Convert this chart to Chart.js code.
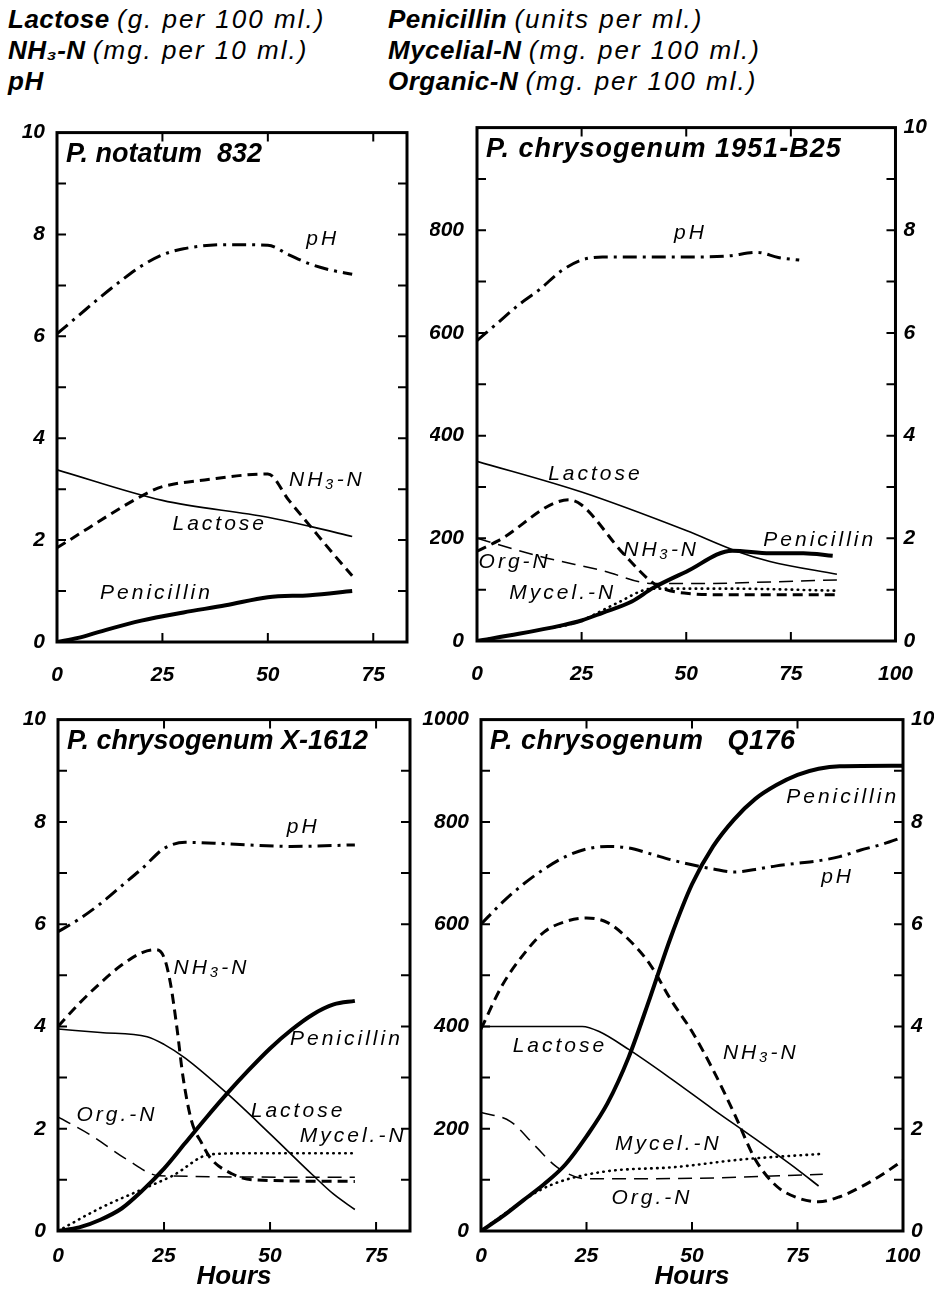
<!DOCTYPE html>
<html>
<head>
<meta charset="utf-8">
<script src="https://cdn.jsdelivr.net/npm/chart.js@4.4.1/dist/chart.umd.min.js"></script>
<style>
  body { margin: 0; background: #fff; }
  #hoja { position: relative; width: 934px; height: 1292px; background: #fff; overflow: hidden;
          font-family: "Liberation Sans", Arial, sans-serif; font-style: italic; color: #000; }
  .cab { position: absolute; font-size: 26px; line-height: 31px; white-space: nowrap; }
  .cab b { letter-spacing: 0.5px; }
  .cab span { letter-spacing: 2px; }
  canvas { position: absolute; }
</style>
</head>
<body>
<div id="hoja">
  <div class="cab" style="left:8px; top:4px"><b>Lactose</b> <span>(g. per 100 ml.)</span><br><b>NH₃-N</b> <span>(mg. per 10 ml.)</span><br><b>pH</b></div>
  <div class="cab" style="left:388px; top:4px"><b>Penicillin</b> <span>(units per ml.)</span><br><b>Mycelial-N</b> <span>(mg. per 100 ml.)</span><br><b>Organic-N</b> <span>(mg. per 100 ml.)</span></div>
  <canvas id="c1" width="440" height="582" style="left:0px; top:108px"></canvas>
  <canvas id="c2" width="504" height="588" style="left:430px; top:102px"></canvas>
  <canvas id="c3" width="445" height="597" style="left:0px; top:695px"></canvas>
  <canvas id="c4" width="519" height="597" style="left:415px; top:695px"></canvas>
</div>
<script>
// Marcas de los ejes
var xTicksShort = [0, 25, 50, 75];
var xTicksLong = [0, 25, 50, 75, 100];
var ticks10 = [0, 2, 4, 6, 8, 10];
var ticks800 = [0, 200, 400, 600, 800];
var ticks1000 = [0, 200, 400, 600, 800, 1000];
var minorTicks = [1, 2, 3, 4, 5, 6, 7, 8, 9];
var innerXTicks = [25, 50, 75];

// P. notatum 832 (horas / valores)
var p1PhH = [0, 5, 10, 15, 20, 25, 30, 40, 50, 55, 60, 65, 70];
var p1Ph = [6.05, 6.4, 6.75, 7.08, 7.38, 7.6, 7.72, 7.8, 7.79, 7.6, 7.42, 7.3, 7.22];
var p1LacH = [0, 25, 50, 60, 70];
var p1Lac = [3.38, 2.78, 2.45, 2.27, 2.07];
var p1NhH = [0, 22, 25, 35, 50, 55, 60, 65, 70];
var p1Nh = [1.85, 2.95, 3.05, 3.18, 3.3, 2.78, 2.28, 1.78, 1.3];
var p1PenH = [0, 5, 10, 20, 30, 40, 50, 60, 70];
var p1Pen = [0, 8, 20, 42, 58, 72, 88, 92, 100];

// P. chrysogenum 1951-B25
var p2PhH = [0, 5, 10, 15, 20, 25, 30, 40, 50, 60, 67, 72, 77];
var p2Ph = [5.85, 6.2, 6.55, 6.85, 7.2, 7.42, 7.48, 7.48, 7.48, 7.5, 7.57, 7.47, 7.42];
var p2LacH = [0, 25, 50, 62, 70, 86];
var p2Lac = [3.5, 2.9, 2.15, 1.75, 1.55, 1.3];
var p2NhH = [0, 5, 22, 25, 35, 43, 50, 60, 86];
var p2Nh = [1.75, 1.95, 2.75, 2.65, 1.7, 1.08, 0.93, 0.9, 0.9];
var p2PenH = [0, 10, 20, 25, 30, 37, 42, 50, 61, 70, 78, 85];
var p2Pen = [0, 14, 30, 40, 55, 77, 103, 135, 176, 171, 171, 166];
var p2OrgH = [0, 15, 30, 42, 55, 70, 86];
var p2Org = [200, 165, 137, 112, 112, 115, 119];
var p2MycH = [0, 10, 24, 33, 42, 60, 86];
var p2Myc = [0, 15, 37, 72, 102, 102, 98];

// P. chrysogenum X-1612
var p3PhH = [0, 5, 10, 15, 20, 25, 30, 40, 55, 70];
var p3Ph = [5.85, 6.1, 6.4, 6.75, 7.1, 7.48, 7.6, 7.57, 7.52, 7.55];
var p3NhH = [0, 5, 10, 15, 20, 23, 25, 26.5, 28, 29.5, 31.5, 34, 36, 41, 46, 70];
var p3Nh = [4.0, 4.45, 4.85, 5.2, 5.45, 5.5, 5.35, 4.85, 4.0, 3.0, 2.15, 1.7, 1.42, 1.12, 1.0, 0.97];
var p3LacH = [0, 10, 21, 25, 30, 40, 50, 60, 65, 70];
var p3Lac = [3.95, 3.88, 3.8, 3.65, 3.38, 2.68, 1.9, 1.1, 0.72, 0.42];
var p3PenH = [0, 5, 10, 15, 20, 25, 30, 35, 40, 45, 50, 55, 60, 65, 70];
var p3Pen = [0, 7, 22, 44, 80, 122, 172, 222, 270, 315, 357, 393, 423, 443, 450];
var p3OrgH = [0, 8, 16, 24, 70];
var p3Org = [223, 186, 141, 108, 105];
var p3MycH = [0, 10, 20, 27, 36, 45, 70];
var p3Myc = [0, 45, 82, 108, 150, 152, 152];

// P. chrysogenum Q176
var p4PenH = [0, 5, 10, 15, 20, 25, 30, 35, 40, 45, 50, 55, 60, 65, 70, 75, 80, 85, 100];
var p4Pen = [0, 28, 60, 92, 130, 185, 250, 340, 455, 575, 678, 752, 805, 845, 872, 892, 904, 909, 910];
var p4PhH = [0, 5, 10, 15, 20, 25, 30, 35, 40, 45, 50, 55, 60, 65, 70, 75, 80, 85, 90, 95, 100];
var p4Ph = [6.0, 6.42, 6.78, 7.08, 7.32, 7.47, 7.52, 7.49, 7.38, 7.26, 7.16, 7.08, 7.02, 7.07, 7.14, 7.19, 7.24, 7.32, 7.45, 7.56, 7.7];
var p4NhH = [0, 5, 10, 15, 20, 25, 30, 35, 40, 45, 50, 55, 60, 65, 70, 75, 80, 85, 90, 95, 100];
var p4Nh = [3.95, 4.8, 5.4, 5.85, 6.05, 6.12, 6.03, 5.7, 5.22, 4.52, 3.9, 3.15, 2.3, 1.4, 0.88, 0.65, 0.57, 0.67, 0.86, 1.1, 1.38];
var p4LacH = [0, 10, 24, 28, 35, 45, 55, 65, 75, 80];
var p4Lac = [4.0, 4.0, 4.0, 3.9, 3.55, 2.98, 2.38, 1.8, 1.2, 0.88];
var p4OrgH = [0, 7, 13, 18, 25, 50, 81];
var p4Org = [232, 214, 165, 125, 102, 103, 111];
var p4MycH = [0, 6, 14, 20, 30, 46, 62, 81];
var p4Myc = [0, 36, 80, 100, 117, 125, 140, 151];

// Rótulos de las curvas: texto, hora, valor en la escala 0-10
var p1Labels = [['pH', 63, 7.9], ['NH₃-N', 64, 3.18], ['Lactose', 38.6, 2.32], ['Penicillin', 23.6, 0.96]];
var p2Labels = [['pH', 51, 7.94], ['Lactose', 28.3, 3.25], ['NH₃-N', 44, 1.76], ['Org-N', 9, 1.54], ['Mycel.-N', 20.5, 0.94], ['Penicillin', 81.9, 1.97]];
var p3Labels = [['pH', 57.8, 7.89], ['NH₃-N', 36.2, 5.13], ['Penicillin', 68, 3.76], ['Lactose', 56.6, 2.34], ['Mycel.-N', 69.6, 1.86], ['Org.-N', 13.9, 2.27]];
var p4Labels = [['Penicillin', 85.7, 8.48], ['pH', 84.5, 6.92], ['Lactose', 18.7, 3.62], ['NH₃-N', 66.3, 3.47], ['Mycel.-N', 44.4, 1.69], ['Org.-N', 40.5, 0.65]];

var familia = '"Liberation Sans", Arial, sans-serif';
var tipo = { family: familia, style: 'italic', weight: 'bold', size: 21 };

var estilo = {
  ph: { borderWidth: 3, borderDash: [14, 6, 3, 6] },
  lac: { borderWidth: 1.6 },
  nh: { borderWidth: 3, borderDash: [10, 6] },
  pen: { borderWidth: 4 },
  org: { borderWidth: 1.5, borderDash: [14, 8] },
  myc: { borderWidth: 2.6, borderDash: [0.5, 5.5], borderCapStyle: 'round' }
};

function serie(h, v, eje, st) {
  return Object.assign({
    data: h.map(function (x, i) { return { x: x, y: v[i] }; }),
    yAxisID: eje, borderColor: '#000', pointRadius: 0, fill: false,
    cubicInterpolationMode: 'monotone'
  }, st);
}

function eje(pos, max, marcas, ancho, pad) {
  if (!marcas) return { type: 'linear', display: false, min: 0, max: max };
  return {
    type: 'linear', position: pos, min: 0, max: max,
    afterBuildTicks: function (s) { s.ticks = marcas.map(function (v) { return { value: v }; }); },
    afterFit: function (s) { s.width = ancho; },
    ticks: { font: tipo, color: '#000', padding: pad, autoSkip: false, callback: function (v) { return String(v); } },
    grid: { display: false, drawTicks: false },
    border: { display: false }
  };
}

function panel(id, caja, area, series, conf) {
  var escalas = {
    x: {
      type: 'linear', min: 0, max: conf.xMax,
      afterBuildTicks: function (s) { s.ticks = conf.xTicks.map(function (v) { return { value: v }; }); },
      afterFit: function (s) { s.height = caja.y + caja.h - area.b; },
      ticks: { font: tipo, color: '#000', padding: conf.xPad, autoSkip: false, maxRotation: 0,
               callback: function (v) { return String(v); } },
      grid: { display: false, drawTicks: false },
      border: { display: false },
      title: { display: conf.hours, text: 'Hours', color: '#000', padding: 0,
               font: { family: familia, style: 'italic', weight: 'bold', size: 26 } }
    }
  };
  var izqMax = conf.izq === 'y' ? 10 : 1000;
  var derMax = conf.der === 'y' ? 10 : 1000;
  escalas[conf.izq] = eje('left', izqMax, conf.izqTicks, area.l - caja.x, conf.izqPad);
  escalas[conf.der] = eje('right', derMax, conf.derTicks, caja.x + caja.w - area.r, conf.derPad);

  var marco = {
    id: 'marco',
    afterDatasetsDraw: function (chart) {
      var a = chart.chartArea, ctx = chart.ctx, sx = chart.scales.x, sy = chart.scales.y;
      ctx.save();
      ctx.strokeStyle = '#000';
      ctx.lineWidth = 3;
      ctx.strokeRect(a.left, a.top, a.right - a.left, a.bottom - a.top);
      ctx.lineWidth = 2;
      ctx.beginPath();
      minorTicks.forEach(function (v) {
        var y = sy.getPixelForValue(v);
        ctx.moveTo(a.left, y); ctx.lineTo(a.left + 9, y);
        ctx.moveTo(a.right, y); ctx.lineTo(a.right - 9, y);
      });
      innerXTicks.forEach(function (v) {
        var x = sx.getPixelForValue(v);
        ctx.moveTo(x, a.bottom); ctx.lineTo(x, a.bottom - 9);
        ctx.moveTo(x, a.top); ctx.lineTo(x, a.top + 9);
      });
      ctx.stroke();
      ctx.fillStyle = '#000';
      ctx.textBaseline = 'middle';
      ctx.textAlign = 'left';
      ctx.font = 'italic bold 27px ' + familia;
      ctx.letterSpacing = conf.tituloEsp || '0px';
      ctx.fillText(conf.titulo, a.left + 9, a.top + 22);
      ctx.font = 'italic 21px ' + familia;
      ctx.textAlign = 'center';
      ctx.letterSpacing = '3px';
      conf.rotulos.forEach(function (e) {
        ctx.fillText(e[0], sx.getPixelForValue(e[1]), sy.getPixelForValue(e[2]));
      });
      ctx.restore();
    }
  };

  return new Chart(document.getElementById(id), {
    type: 'line',
    data: { datasets: series },
    options: {
      responsive: false,
      animation: false,
      layout: { padding: { top: area.t - caja.y, right: conf.derTicks ? 0 : caja.x + caja.w - area.r, left: 0, bottom: 0 } },
      plugins: { legend: { display: false }, tooltip: { enabled: false } },
      scales: escalas
    },
    plugins: [marco]
  });
}

panel('c1', { x: 0, y: 108, w: 440, h: 582 }, { l: 57, t: 128, r: 407, b: 642 }, [
  serie(p1PhH, p1Ph, 'y', estilo.ph),
  serie(p1LacH, p1Lac, 'y', estilo.lac),
  serie(p1NhH, p1Nh, 'y', estilo.nh),
  serie(p1PenH, p1Pen, 'y2', estilo.pen)
], { xMax: 83, xTicks: xTicksShort, xPad: 21, hours: false, izq: 'y', izqTicks: ticks10, izqPad: 12,
     der: 'y2', derTicks: null, titulo: 'P. notatum  832', rotulos: p1Labels });

panel('c2', { x: 430, y: 102, w: 504, h: 588 }, { l: 477, t: 122, r: 897, b: 641 }, [
  serie(p2PhH, p2Ph, 'y', estilo.ph),
  serie(p2LacH, p2Lac, 'y', estilo.lac),
  serie(p2NhH, p2Nh, 'y', estilo.nh),
  serie(p2OrgH, p2Org, 'y2', estilo.org),
  serie(p2MycH, p2Myc, 'y2', estilo.myc),
  serie(p2PenH, p2Pen, 'y2', estilo.pen)
], { xMax: 100, xTicks: xTicksLong, xPad: 21, hours: false, izq: 'y2', izqTicks: ticks800, izqPad: 13,
     der: 'y', derTicks: ticks10, derPad: 8, titulo: 'P. chrysogenum 1951-B25', tituloEsp: '1px', rotulos: p2Labels });

panel('c3', { x: 0, y: 695, w: 445, h: 597 }, { l: 58, t: 719, r: 410, b: 1231 }, [
  serie(p3PhH, p3Ph, 'y', estilo.ph),
  serie(p3NhH, p3Nh, 'y', estilo.nh),
  serie(p3LacH, p3Lac, 'y', estilo.lac),
  serie(p3OrgH, p3Org, 'y2', estilo.org),
  serie(p3MycH, p3Myc, 'y2', estilo.myc),
  serie(p3PenH, p3Pen, 'y2', estilo.pen)
], { xMax: 83, xTicks: xTicksShort, xPad: 13, hours: true, izq: 'y', izqTicks: ticks10, izqPad: 12,
     der: 'y2', derTicks: null, titulo: 'P. chrysogenum X-1612', rotulos: p3Labels });

panel('c4', { x: 415, y: 695, w: 519, h: 597 }, { l: 481, t: 718, r: 903, b: 1231 }, [
  serie(p4PhH, p4Ph, 'y', estilo.ph),
  serie(p4NhH, p4Nh, 'y', estilo.nh),
  serie(p4LacH, p4Lac, 'y', estilo.lac),
  serie(p4OrgH, p4Org, 'y2', estilo.org),
  serie(p4MycH, p4Myc, 'y2', estilo.myc),
  serie(p4PenH, p4Pen, 'y2', estilo.pen)
], { xMax: 100, xTicks: xTicksLong, xPad: 13, hours: true, izq: 'y2', izqTicks: ticks1000, izqPad: 12,
     der: 'y', derTicks: ticks10, derPad: 8, titulo: 'P. chrysogenum   Q176', tituloEsp: '0.5px', rotulos: p4Labels });
</script>
</body>
</html>
